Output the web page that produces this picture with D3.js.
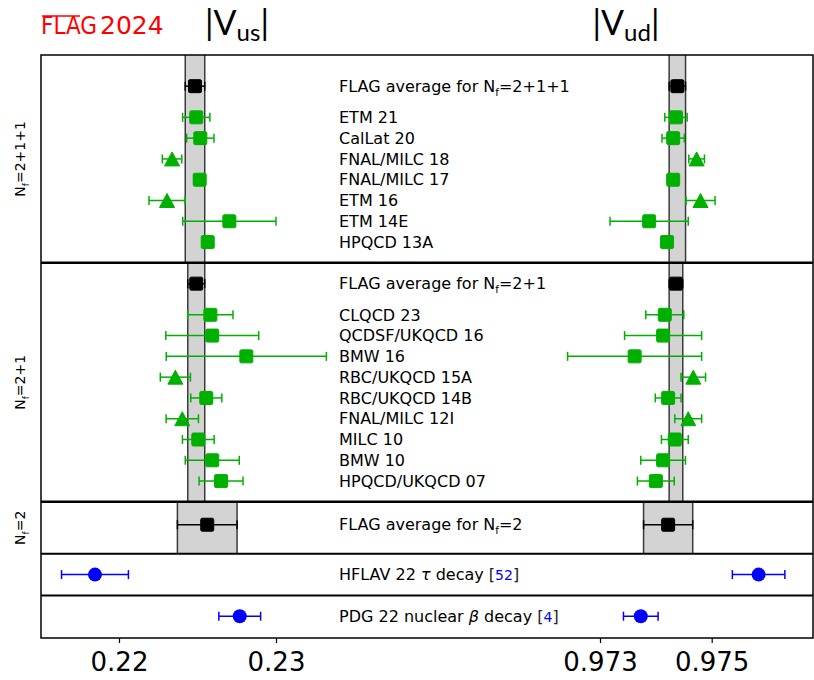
<!DOCTYPE html>
<html>
<head>
<meta charset="utf-8">
<script src="https://cdn.jsdelivr.net/npm/d3@7"></script>
<style>
  body { margin: 0; background: #fff; }
  text { font-family: "DejaVu Sans", sans-serif; }
</style>
</head>
<body>
<svg id="chart" width="814" height="680"></svg>
<script>
var labels4 = ["ETM 21", "CalLat 20", "FNAL/MILC 18", "FNAL/MILC 17", "ETM 16", "ETM 14E", "HPQCD 13A"];
var sym4    = ["square", "square", "triangle", "square", "triangle", "square", "square"];
var vus4    = [0.22492, 0.22518, 0.22338, 0.22514, 0.22306, 0.22703, 0.22565];
var vus4Err = [0.00087, 0.00087, 0.00062, 0.00035, 0.00115, 0.00297, 0.00035];
var vud4    = [0.97436, 0.97431, 0.97473, 0.97431, 0.97480, 0.97388, 0.97420];
var vud4Err = [0.00020, 0.00020, 0.00014, 0.00008, 0.00026, 0.00070, 0.00008];

var labels3 = ["CLQCD 23", "QCDSF/UKQCD 16", "BMW 16", "RBC/UKQCD 15A", "RBC/UKQCD 14B",
               "FNAL/MILC 12I", "MILC 10", "BMW 10", "HPQCD/UKQCD 07"];
var sym3    = ["square", "square", "square", "triangle", "square", "triangle", "square", "square", "square"];
var vus3    = [0.22582, 0.22594, 0.22811, 0.22359, 0.22556, 0.22403, 0.22505, 0.22594, 0.22650];
var vus3Err = [0.00144, 0.00296, 0.00510, 0.00096, 0.00099, 0.00103, 0.00101, 0.00172, 0.00140];
var vud3    = [0.97416, 0.97413, 0.97362, 0.97467, 0.97422, 0.97458, 0.97434, 0.97413, 0.97400];
var vud3Err = [0.00034, 0.00069, 0.00120, 0.00022, 0.00023, 0.00024, 0.00024, 0.00040, 0.00033];

// FLAG averages for Nf = 2+1+1, 2+1, 2
var avgNf     = ["2+1+1", "2+1", "2"];
var avgVus    = [0.22484, 0.22492, 0.22562];
var avgVusErr = [0.00062, 0.00054, 0.00190];
var avgVud    = [0.974385, 0.97436, 0.97422];
var avgVudErr = [0.000147, 0.000122, 0.00044];

// non-lattice determinations
var phenoText   = [["HFLAV 22 ", "\u03c4", " decay "], ["PDG 22 nuclear ", "\u03b2", " decay "]];
var phenoRef    = ["52", "4"];
var phenoVus    = [0.21847, 0.22769];
var phenoVusErr = [0.00213, 0.00133];
var phenoVud    = [0.97584, 0.97373];
var phenoVudErr = [0.00047, 0.00031];

var tickVus = [0.22, 0.23];
var tickVud = [0.973, 0.975];

// ---- layout ----
var svg = d3.select("#chart");
var frame = {left: 41, right: 813, top: 55, bottom: 638};
var green = "#00b000", blue = "#0000ff";

var xL = d3.scaleLinear().domain([0.22, 0.23]).range([119, 276]);
var xR = d3.scaleLinear().domain([0.973, 0.975]).range([600, 711.7]);
// y in "row units"
var y = d3.scaleLinear().domain([0, 28.05]).range([frame.top, frame.bottom]);

var panels = [[0, 10], [10, 21.5], [21.5, 24], [24, 26], [26, 28.05]];
var avgRow = [1.5, 11, 22.6];
var labelX = 339;

// bands of the FLAG averages
var bands = svg.append("g");
avgNf.forEach(function(nf, i) {
  [[xL, avgVus[i], avgVusErr[i]], [xR, avgVud[i], avgVudErr[i]]].forEach(function(s) {
    var x0 = s[0](s[1] - s[2]), x1 = s[0](s[1] + s[2]);
    bands.append("rect")
      .attr("x", x0).attr("width", x1 - x0)
      .attr("y", y(panels[i][0])).attr("height", y(panels[i][1]) - y(panels[i][0]))
      .style("fill", "#d3d3d3");
    [x0, x1].forEach(function(xx) {
      bands.append("line")
        .attr("x1", xx).attr("x2", xx)
        .attr("y1", y(panels[i][0])).attr("y2", y(panels[i][1]))
        .style("stroke", "#3a3a3a").style("stroke-width", 1.5);
    });
  });
});

// frame + panel separators
svg.append("rect")
  .attr("x", frame.left).attr("y", frame.top)
  .attr("width", frame.right - frame.left).attr("height", frame.bottom - frame.top)
  .style("fill", "none").style("stroke", "#000").style("stroke-width", 1.5);

[10, 21.5, 24, 26].forEach(function(u, i) {
  svg.append("line")
    .attr("x1", frame.left).attr("x2", frame.right)
    .attr("y1", y(u)).attr("y2", y(u))
    .style("stroke", "#000").style("stroke-width", i < 2 ? 2.5 : 2);
});

// one point with error bar
function drawPoint(scale, v, e, yy, sym, color, size) {
  var g = svg.append("g");
  var xa = scale(v - e), xb = scale(v + e);
  g.append("line").attr("x1", xa).attr("x2", xb).attr("y1", yy).attr("y2", yy)
    .style("stroke", color).style("stroke-width", 1.5);
  [xa, xb].forEach(function(xx) {
    g.append("line").attr("x1", xx).attr("x2", xx).attr("y1", yy - 4.5).attr("y2", yy + 4.5)
      .style("stroke", color).style("stroke-width", 1.5);
  });
  var cx = scale(v), h = size / 2;
  if (sym === "square") {
    g.append("rect").attr("x", cx - h).attr("y", yy - h).attr("width", size).attr("height", size)
      .style("fill", color).style("stroke", color).style("stroke-width", 1).attr("rx", 1.5);
  } else if (sym === "triangle") {
    g.append("path")
      .attr("d", "M" + cx + "," + (yy - 7) + "L" + (cx + 7.5) + "," + (yy + 7) + "L" + (cx - 7.5) + "," + (yy + 7) + "Z")
      .style("fill", color).style("stroke", color).style("stroke-width", 1);
  } else {
    g.append("circle").attr("cx", cx).attr("cy", yy).attr("r", h).style("fill", color);
  }
}

function nfLabel(x, yy, nf, prefix, size) {
  var t = svg.append("text").attr("x", x).attr("y", yy).attr("dy", "0.36em")
    .style("font-size", size + "px");
  t.append("tspan").text(prefix + "N");
  t.append("tspan").text("f").style("font-size", (size * 0.65) + "px").attr("dy", size * 0.25);
  t.append("tspan").text("=" + nf).attr("dy", -size * 0.25);
  return t;
}

// FLAG averages
avgNf.forEach(function(nf, i) {
  var yy = y(avgRow[i]);
  drawPoint(xL, avgVus[i], avgVusErr[i], yy, "square", "#000", 13);
  drawPoint(xR, avgVud[i], avgVudErr[i], yy, "square", "#000", 13);
  nfLabel(labelX, yy, nf, "FLAG average for ", 16);
});

// lattice results
function drawGroup(labels, syms, vus, vusErr, vud, vudErr, start) {
  labels.forEach(function(lab, i) {
    var yy = y(start + i);
    drawPoint(xL, vus[i], vusErr[i], yy, syms[i], green, 13);
    drawPoint(xR, vud[i], vudErr[i], yy, syms[i], green, 13);
    svg.append("text").attr("x", labelX).attr("y", yy).attr("dy", "0.36em")
      .style("font-size", "16px").text(lab);
  });
}
drawGroup(labels4, sym4, vus4, vus4Err, vud4, vud4Err, 3);
drawGroup(labels3, sym3, vus3, vus3Err, vud3, vud3Err, 12.5);

// tau and beta decay
phenoText.forEach(function(parts, i) {
  var yy = y(25 + 2 * i);
  drawPoint(xL, phenoVus[i], phenoVusErr[i], yy, "circle", blue, 14);
  drawPoint(xR, phenoVud[i], phenoVudErr[i], yy, "circle", blue, 14);
  var t = svg.append("text").attr("x", labelX).attr("y", yy).attr("dy", "0.36em")
    .style("font-size", "16px");
  t.append("tspan").text(parts[0]);
  t.append("tspan").text(parts[1]).style("font-style", "italic");
  t.append("tspan").text(parts[2]);
  t.append("tspan").text("[").style("fill", "#222");
  t.append("tspan").text(phenoRef[i]).style("font-size", "14px").style("fill", blue);
  t.append("tspan").text("]").style("fill", "#222");
});

// rotated Nf labels
["2+1+1", "2+1", "2"].forEach(function(nf, i) {
  var cy = (y(panels[i][0]) + y(panels[i][1])) / 2;
  var g = svg.append("g").attr("transform", "translate(20," + cy + ") rotate(-90)");
  var t = g.append("text").attr("x", 0).attr("y", 0).attr("dy", "0.36em")
    .attr("text-anchor", "middle").style("font-size", "14px");
  t.append("tspan").text("N");
  t.append("tspan").text("f").style("font-size", "9px").attr("dy", 3.5);
  t.append("tspan").text("=" + nf).attr("dy", -3.5);
});

// x axes
function styleAxis(g) {
  g.select(".domain").remove();
  g.selectAll(".tick line").style("stroke", "#000").style("stroke-width", 1.2);
  g.selectAll(".tick text").style("font-size", "26px").style("font-family", "DejaVu Sans, sans-serif");
}
svg.append("g").attr("transform", "translate(0," + frame.bottom + ")")
  .call(d3.axisBottom(xL).tickValues(tickVus).tickFormat(d3.format(".2f")).tickSize(5).tickPadding(10))
  .call(styleAxis);
svg.append("g").attr("transform", "translate(0," + frame.bottom + ")")
  .call(d3.axisBottom(xR).tickValues(tickVud).tickFormat(d3.format(".3f")).tickSize(5).tickPadding(10))
  .call(styleAxis);

// titles
function vTitle(x, sub) {
  var t = svg.append("text").attr("x", x).attr("y", 35).attr("text-anchor", "middle")
    .style("font-family", "Lato, DejaVu Sans, sans-serif").style("font-size", "34px");
  t.append("tspan").text("|V");
  t.append("tspan").text(sub).style("font-size", "24px").attr("dy", 6);
  t.append("tspan").text("|").attr("dy", -6);
}
vTitle(237, "us");
vTitle(626, "ud");

// FLAG 2024 logo
svg.append("text").attr("x", 41).attr("y", 34)
  .style("font-family", "DejaVu Sans Condensed, DejaVu Sans, sans-serif")
  .style("font-size", "24px").style("fill", "#f00").text("FLAG");
svg.append("line").attr("x1", 42).attr("x2", 80).attr("y1", 16).attr("y2", 16)
  .style("stroke", "#f00").style("stroke-width", 1.6);
svg.append("text").attr("x", 100).attr("y", 34)
  .style("font-size", "25px").style("fill", "#f00").text("2024");
</script>
</body>
</html>
